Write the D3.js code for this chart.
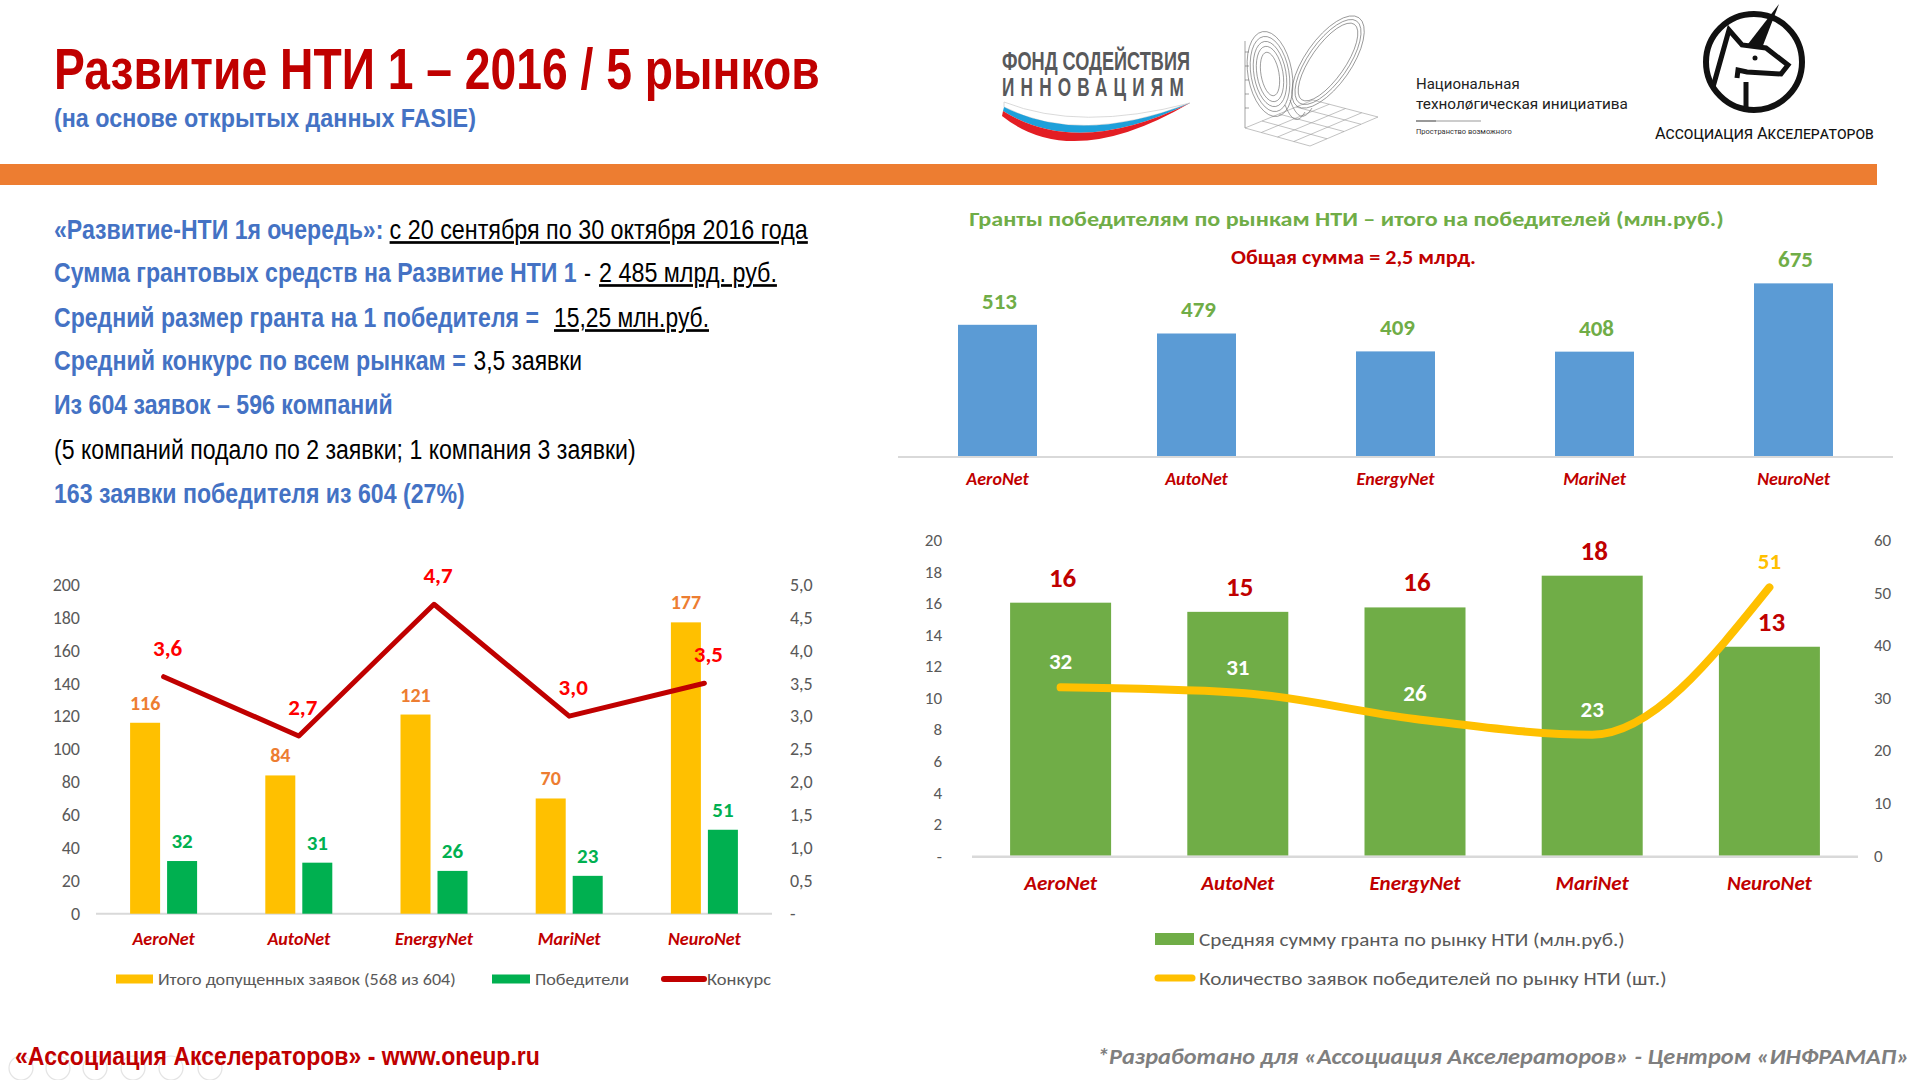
<!DOCTYPE html>
<html><head><meta charset="utf-8">
<script src="https://cdn.jsdelivr.net/npm/d3@7"></script>
<style>body{margin:0;background:#fff}svg{display:block}</style>
</head><body>
<svg id="c" width="1920" height="1080"></svg>
<script>
// ---------------- DATA ----------------
const categories = ["AeroNet","AutoNet","EnergyNet","MariNet","NeuroNet"];
// left chart
const admittedApps = [116,84,121,70,177];
const winners = [32,31,26,23,51];
const competition = [3.6,2.7,4.7,3.0,3.5];
const competitionLabels = ["3,6","2,7","4,7","3,0","3,5"];
const leftTicks = [0,20,40,60,80,100,120,140,160,180,200];
const leftRightTicks = [0,0.5,1,1.5,2,2.5,3,3.5,4,4.5,5];
const leftRightTickLabels = ["-","0,5","1,0","1,5","2,0","2,5","3,0","3,5","4,0","4,5","5,0"];
// top right chart
const grantTotals = [513,479,409,408,675];
// bottom right chart
const avgGrant = [16.03,15.45,15.73,17.74,13.24];
const avgGrantLabels = ["16","15","16","18","13"];
const winnerApps = [32,31,26,23,51];
const brLeftTicks = [0,2,4,6,8,10,12,14,16,18,20];
const brLeftTickLabels = ["-","2","4","6","8","10","12","14","16","18","20"];
const brRightTicks = [0,10,20,30,40,50,60];

// ---------------- STYLE ----------------
const NARROW = "'Liberation Sans Narrow','Arial Narrow','Liberation Sans',Arial,sans-serif";
const CAL = "Carlito, Lato, sans-serif";
const CALCYR = "Carlito, Roboto, 'Noto Sans', sans-serif";
const BLUE = "#4472C4", DRED = "#C00000";

const svg = d3.select("#c");

// text helper: when a target width is given, the text is scaled horizontally with a transform
function txt(g, o) {
  const t = g.append("text").attr("x", 0).attr("y", 0)
    .style("font-family", o.font || NARROW).style("font-size", o.size + "px")
    .style("font-weight", o.bold ? "bold" : "normal")
    .style("font-style", o.italic ? "italic" : "normal")
    .attr("fill", o.fill || "#000").attr("text-anchor", o.anchor || "start")
    .text(o.text);
  if (o.u) t.style("text-decoration", "underline");
  if (o.ls) t.style("letter-spacing", o.ls);
  if (o.variant) t.style("font-variant", o.variant);
  let sx = 1;
  if (o.len) {
    const w = t.node().getComputedTextLength();
    if (w > 0) sx = o.len / w;
  }
  t.attr("transform", `translate(${o.x},${o.y}) scale(${sx},1)`);
  return t;
}

// ---------------- HEADER ----------------
const head = svg.append("g");
txt(head, {x:54, y:89, size:58, bold:true, fill:DRED, text:"Развитие НТИ 1 – 2016 / 5 рынков", len:766});
txt(head, {x:54, y:127, size:26, bold:true, fill:BLUE, text:"(на основе открытых данных FASIE)", len:422});

// FASIE logo
txt(head, {x:1002, y:70, size:25, bold:true, fill:"#58595B", text:"ФОНД СОДЕЙСТВИЯ", len:188});
txt(head, {x:1002, y:96, size:25, bold:true, fill:"#58595B", text:"ИННОВАЦИЯМ", len:188, ls:"9px"});
head.append("path").attr("d","M1004,102 Q1080,132 1190,103 Q1080,146 1004,107 Z").attr("fill","#fff").attr("stroke","#d0d0d0").attr("stroke-width",0.8);
head.append("path").attr("d","M1004,107 Q1080,146 1190,103 Q1078,158 1003,111 Z").attr("fill","#1EA0DA");
head.append("path").attr("d","M1003,111 Q1078,158 1190,103 Q1072,172 1002,116 Z").attr("fill","#E31E24");

// Lorenz-like logo
const lor = head.append("g").attr("fill","none").attr("stroke","#666").attr("stroke-width",0.6);
lor.append("line").attr("x1",1245).attr("y1",41).attr("x2",1245).attr("y2",128);
const A=[1245,128],B=[1310,146],C=[1378,117],D=[1313,100];
for (let i=0;i<=4;i++){
  const t=i/4;
  lor.append("line").attr("x1",A[0]+(B[0]-A[0])*t).attr("y1",A[1]+(B[1]-A[1])*t)
    .attr("x2",D[0]+(C[0]-D[0])*t).attr("y2",D[1]+(C[1]-D[1])*t).attr("stroke","#999");
  lor.append("line").attr("x1",A[0]+(D[0]-A[0])*t).attr("y1",A[1]+(D[1]-A[1])*t)
    .attr("x2",B[0]+(C[0]-B[0])*t).attr("y2",B[1]+(C[1]-B[1])*t).attr("stroke","#999");
}
[[9,22],[13,28],[16,33],[19,38],[22,43]].forEach(r=>{
  lor.append("ellipse").attr("cx",1270).attr("cy",74).attr("rx",r[0]).attr("ry",r[1]).attr("transform","rotate(-10 1270 74)");
});
[[17,46],[20,50],[23,54]].forEach(r=>{
  lor.append("ellipse").attr("cx",1328).attr("cy",62).attr("rx",r[0]).attr("ry",r[1]).attr("transform","rotate(35 1328 62)");
});
lor.append("path").attr("d","M1285,105 Q1295,130 1305,112 M1290,100 Q1300,128 1312,108");
[52,66,80,94,108].forEach(y=>lor.append("line").attr("x1",1245).attr("x2",1249).attr("y1",y).attr("y2",y));

// NTI text
txt(head, {x:1416, y:89, size:15, font:"Roboto, 'Noto Sans', sans-serif", fill:"#222", text:"Национальная"});
txt(head, {x:1416, y:109, size:15, font:"Roboto, 'Noto Sans', sans-serif", fill:"#222", text:"технолøгическая инициатива", len:212});
head.append("line").attr("x1",1416).attr("x2",1436).attr("y1",121).attr("y2",121).attr("stroke","#777").attr("stroke-width",1.5);
head.append("line").attr("x1",1436).attr("x2",1481).attr("y1",121).attr("y2",121).attr("stroke","#bbb").attr("stroke-width",1.5);
txt(head, {x:1416, y:134, size:7, font:"Roboto, sans-serif", fill:"#333", text:"Пространство возможного", len:96});

// Unicorn logo
const uni = head.append("g").attr("fill","none").attr("stroke","#111").attr("stroke-width",6).attr("stroke-linejoin","miter");
uni.append("circle").attr("cx",1754).attr("cy",62).attr("r",48);
uni.append("path").attr("d","M1713,87 L1729,30 L1742,45 L1766,48 L1788,65 L1781,74 L1747,72 L1738,70 L1737,78").attr("stroke-width",5);
uni.append("line").attr("x1",1746).attr("y1",82).attr("x2",1746).attr("y2",110).attr("stroke-width",5);
head.append("path").attr("d","M1748,44 L1779,4 L1762,48 Z").attr("fill","#111");
head.append("circle").attr("cx",1755).attr("cy",58).attr("r",2.5).attr("fill","#111");
txt(head, {x:1655, y:139, size:17, font:"Roboto, 'Noto Sans', sans-serif", fill:"#111", text:"Ассоциация Акселераторов", len:219, variant:"small-caps"});

// Orange band
head.append("rect").attr("x",0).attr("y",164).attr("width",1877).attr("height",21).attr("fill","#ED7D31");

// ---------------- TEXT BLOCK ----------------
const tb = svg.append("g");
const TS = 27;
txt(tb,{x:54,y:239,size:TS,bold:true,fill:BLUE,len:329.5,text:"«Развитие-НТИ 1я очередь»:"});
txt(tb,{x:389.6,y:239,size:TS,u:true,len:418.4,text:"с 20 сентября по 30 октября 2016 года"});
txt(tb,{x:54,y:282,size:TS,bold:true,fill:BLUE,len:523,text:"Сумма грантовых средств на Развитие НТИ 1"});
txt(tb,{x:584,y:282,size:TS,len:7,text:"-"});
txt(tb,{x:599,y:282,size:TS,u:true,len:178,text:"2 485 млрд. руб."});
txt(tb,{x:54,y:327,size:TS,bold:true,fill:BLUE,len:485,text:"Средний размер гранта на 1 победителя ="});
txt(tb,{x:554,y:327,size:TS,u:true,len:155,text:"15,25 млн.руб."});
txt(tb,{x:54,y:370,size:TS,bold:true,fill:BLUE,len:412,text:"Средний конкурс по всем рынкам ="});
txt(tb,{x:473.5,y:370,size:TS,len:108.5,text:"3,5 заявки"});
txt(tb,{x:54,y:414,size:TS,bold:true,fill:BLUE,len:339,text:"Из 604 заявок – 596 компаний"});
txt(tb,{x:54,y:459,size:TS,len:582,text:"(5 компаний подало по 2 заявки; 1 компания 3 заявки)"});
txt(tb,{x:54,y:503,size:TS,bold:true,fill:BLUE,len:411,text:"163 заявки победителя из 604 (27%)"});

// ---------------- LEFT CHART ----------------
const LC = {x0:96, x1:772, top:584.5, base:913.7};
const gL = svg.append("g");
const xL = d3.scaleBand().domain(categories).range([LC.x0, LC.x1]);
const xLs = d3.scaleBand().domain(["adm","win"])
  .range([xL.bandwidth()/2 - 33.5, xL.bandwidth()/2 + 33.5]).paddingInner(0.189);
const yL = d3.scaleLinear().domain([0,200]).range([LC.base, LC.top]);
const yLR = d3.scaleLinear().domain([0,5]).range([LC.base, LC.top]);

function styleAxis(g, size, fill, font) {
  g.select(".domain").remove();
  g.selectAll("line").remove();
  g.selectAll("text").style("font-family", font || CAL).style("font-size", size + "px").attr("fill", fill);
}
gL.append("g").attr("transform",`translate(${80},0)`)
  .call(d3.axisLeft(yL).tickValues(leftTicks).tickSize(0).tickPadding(0))
  .call(g=>styleAxis(g,18,"#595959"));
gL.append("g").attr("transform",`translate(${790},0)`)
  .call(d3.axisRight(yLR).tickValues(leftRightTicks).tickSize(0).tickPadding(0)
        .tickFormat((d,i)=>leftRightTickLabels[i]))
  .call(g=>styleAxis(g,18,"#595959"));
gL.append("line").attr("x1",LC.x0).attr("x2",LC.x1).attr("y1",LC.base).attr("y2",LC.base)
  .attr("stroke","#D9D9D9").attr("stroke-width",2);

gL.selectAll(".adm").data(admittedApps).join("rect")
  .attr("x",(d,i)=>xL(categories[i])+xLs("adm")).attr("width",xLs.bandwidth())
  .attr("y",d=>yL(d)).attr("height",d=>LC.base-yL(d)).attr("fill","#FFC000");
gL.selectAll(".win").data(winners).join("rect")
  .attr("x",(d,i)=>xL(categories[i])+xLs("win")).attr("width",xLs.bandwidth())
  .attr("y",d=>yL(d)).attr("height",d=>LC.base-yL(d)).attr("fill","#00B050");
gL.selectAll(".admL").data(admittedApps).join("text")
  .attr("x",(d,i)=>xL(categories[i])+xLs("adm")+xLs.bandwidth()/2).attr("y",d=>yL(d)-13)
  .attr("text-anchor","middle").style("font-family",CAL).style("font-weight","bold").style("font-size","20px")
  .attr("fill","#ED7D31").text(d=>d);
gL.selectAll(".winL").data(winners).join("text")
  .attr("x",(d,i)=>xL(categories[i])+xLs("win")+xLs.bandwidth()/2).attr("y",d=>yL(d)-13)
  .attr("text-anchor","middle").style("font-family",CAL).style("font-weight","bold").style("font-size","21px")
  .attr("fill","#00B050").text(d=>d);
const lineL = d3.line().x((d,i)=>xL(categories[i])+xL.bandwidth()/2).y(d=>yLR(d));
gL.append("path").datum(competition).attr("d",lineL).attr("fill","none")
  .attr("stroke",DRED).attr("stroke-width",5).attr("stroke-linejoin","round").attr("stroke-linecap","round");
gL.selectAll(".compL").data(competition).join("text")
  .attr("x",(d,i)=>xL(categories[i])+xL.bandwidth()/2+4).attr("y",d=>yLR(d)-21)
  .attr("text-anchor","middle").style("font-family",CAL).style("font-weight","bold").style("font-size","23px")
  .attr("fill","#FF0000").text((d,i)=>competitionLabels[i]);
gL.append("g").attr("transform",`translate(0,${LC.base})`)
  .call(d3.axisBottom(xL).tickSize(0))
  .call(g=>{styleAxis(g,18,DRED); g.selectAll("text").attr("y",31).attr("dy",0)
    .style("font-weight","bold").style("font-style","italic");});
// legend
const lgL = gL.append("g");
lgL.append("rect").attr("x",116).attr("y",974.5).attr("width",37).attr("height",9).attr("fill","#FFC000");
txt(lgL,{x:158,y:985,size:16,font:CALCYR,fill:"#595959",text:"Итого допущенных заявок (568 из 604)",len:298});
lgL.append("rect").attr("x",492).attr("y",974.5).attr("width",38).attr("height",9).attr("fill","#00B050");
txt(lgL,{x:535,y:985,size:16,font:CALCYR,fill:"#595959",text:"Победители",len:94});
lgL.append("line").attr("x1",664).attr("x2",704).attr("y1",979).attr("y2",979).attr("stroke",DRED).attr("stroke-width",6).attr("stroke-linecap","round");
txt(lgL,{x:707,y:985,size:16,font:CALCYR,fill:"#595959",text:"Конкурс",len:64});

// ---------------- TOP RIGHT CHART ----------------
const TC = {x0:898, x1:1893, top:251.4, base:456};
const gT = svg.append("g");
txt(gT,{x:1346.5,y:226,size:21,font:CALCYR,bold:true,fill:"#70AD47",anchor:"middle",
  text:"Гранты победителям по рынкам НТИ – итого на победителей (млн.руб.)",len:755});
txt(gT,{x:1353.5,y:264,size:20,font:CALCYR,bold:true,fill:DRED,anchor:"middle",
  text:"Общая сумма = 2,5 млрд.",len:245});
const xT = d3.scaleBand().domain(categories).range([TC.x0,TC.x1]).paddingInner(0.603).paddingOuter(0.3015);
const yT = d3.scaleLinear().domain([0,800]).range([TC.base,TC.top]);
gT.selectAll(".tb").data(grantTotals).join("rect")
  .attr("x",(d,i)=>xT(categories[i])).attr("width",xT.bandwidth())
  .attr("y",d=>yT(d)).attr("height",d=>TC.base-yT(d)).attr("fill","#5B9BD5");
gT.append("line").attr("x1",TC.x0).attr("x2",TC.x1).attr("y1",TC.base+1).attr("y2",TC.base+1)
  .attr("stroke","#D9D9D9").attr("stroke-width",2);
gT.selectAll(".tl").data(grantTotals).join("text")
  .attr("x",(d,i)=>xT(categories[i])+xT.bandwidth()/2+2).attr("y",d=>yT(d)-16)
  .attr("text-anchor","middle").style("font-family",CAL).style("font-weight","bold").style("font-size","23px")
  .attr("fill","#70AD47").text(d=>d);
gT.append("g").attr("transform",`translate(0,${TC.base})`)
  .call(d3.axisBottom(xT).tickSize(0))
  .call(g=>{styleAxis(g,18,DRED); g.selectAll("text").attr("y",29).attr("dy",0)
    .style("font-weight","bold").style("font-style","italic");});

// ---------------- BOTTOM RIGHT CHART ----------------
const BC = {x0:972, x1:1858, top:540, base:855.8};
const gB = svg.append("g");
const xB = d3.scaleBand().domain(categories).range([BC.x0,BC.x1]).paddingInner(0.43).paddingOuter(0.215);
const yB = d3.scaleLinear().domain([0,20]).range([BC.base,BC.top]);
const yBR = d3.scaleLinear().domain([0,60]).range([BC.base,BC.top]);
gB.append("g").attr("transform",`translate(${942},0)`)
  .call(d3.axisLeft(yB).tickValues(brLeftTicks).tickSize(0).tickPadding(0).tickFormat((d,i)=>brLeftTickLabels[i]))
  .call(g=>styleAxis(g,17,"#595959"));
gB.append("g").attr("transform",`translate(${1874},0)`)
  .call(d3.axisRight(yBR).tickValues(brRightTicks).tickSize(0).tickPadding(0))
  .call(g=>styleAxis(g,17,"#595959"));
gB.selectAll(".bb").data(avgGrant).join("rect")
  .attr("x",(d,i)=>xB(categories[i])).attr("width",xB.bandwidth())
  .attr("y",d=>yB(d)).attr("height",d=>BC.base-yB(d)).attr("fill","#70AD47");
gB.append("line").attr("x1",BC.x0).attr("x2",BC.x1).attr("y1",BC.base+1).attr("y2",BC.base+1)
  .attr("stroke","#D9D9D9").attr("stroke-width",2.5);
gB.selectAll(".bl").data(avgGrant).join("text")
  .attr("x",(d,i)=>xB(categories[i])+xB.bandwidth()/2+2).attr("y",d=>yB(d)-16)
  .attr("text-anchor","middle").style("font-family",CAL).style("font-weight","bold").style("font-size","27px")
  .attr("fill",DRED).text((d,i)=>avgGrantLabels[i]);
const lineB = d3.line().x((d,i)=>xB(categories[i])+xB.bandwidth()/2).y(d=>yBR(d)).curve(d3.curveMonotoneX);
gB.append("path").datum(winnerApps).attr("d",lineB).attr("fill","none")
  .attr("stroke","#FFC000").attr("stroke-width",8).attr("stroke-linecap","round").attr("stroke-linejoin","round");
gB.selectAll(".wl").data(winnerApps).join("text")
  .attr("x",(d,i)=>xB(categories[i])+xB.bandwidth()/2).attr("y",d=>yBR(d)-18)
  .attr("text-anchor","middle").style("font-family",CAL).style("font-weight","bold").style("font-size","23px")
  .attr("fill",(d,i)=>i===4?"#FFC000":"#FFFFFF").text(d=>d);
gB.append("g").attr("transform",`translate(0,${BC.base})`)
  .call(d3.axisBottom(xB).tickSize(0))
  .call(g=>{styleAxis(g,21,DRED); g.selectAll("text").attr("y",34).attr("dy",0)
    .style("font-weight","bold").style("font-style","italic");});
const lgB = gB.append("g");
lgB.append("rect").attr("x",1155).attr("y",933).attr("width",39).attr("height",12).attr("fill","#70AD47");
txt(lgB,{x:1199,y:946,size:19,font:CALCYR,fill:"#595959",text:"Средняя сумму гранта по рынку НТИ (млн.руб.)",len:426});
lgB.append("line").attr("x1",1158).attr("x2",1192).attr("y1",978).attr("y2",978).attr("stroke","#FFC000").attr("stroke-width",7).attr("stroke-linecap","round");
txt(lgB,{x:1199,y:985,size:19,font:CALCYR,fill:"#595959",text:"Количество заявок победителей по рынку НТИ (шт.)",len:468});

// ---------------- FOOTER ----------------
const ft = svg.append("g");
[21,58,95,133,171,210].forEach(cx=>{
  ft.append("circle").attr("cx",cx).attr("cy",1068).attr("r",12).attr("fill","none").attr("stroke","#e4e4e4").attr("stroke-width",1.2);
});
txt(ft,{x:15,y:1065,size:26,bold:true,fill:DRED,text:"«Ассоциация Акселераторов» - www.oneup.ru",len:525});
txt(ft,{x:1097,y:1064,size:22,font:CALCYR,bold:true,italic:true,fill:"#7F7F7F",
  text:"*Разработано для «Ассоциация Акселераторов»  - Центром «ИНФРАМАП»",len:813});
</script>
</body></html>
